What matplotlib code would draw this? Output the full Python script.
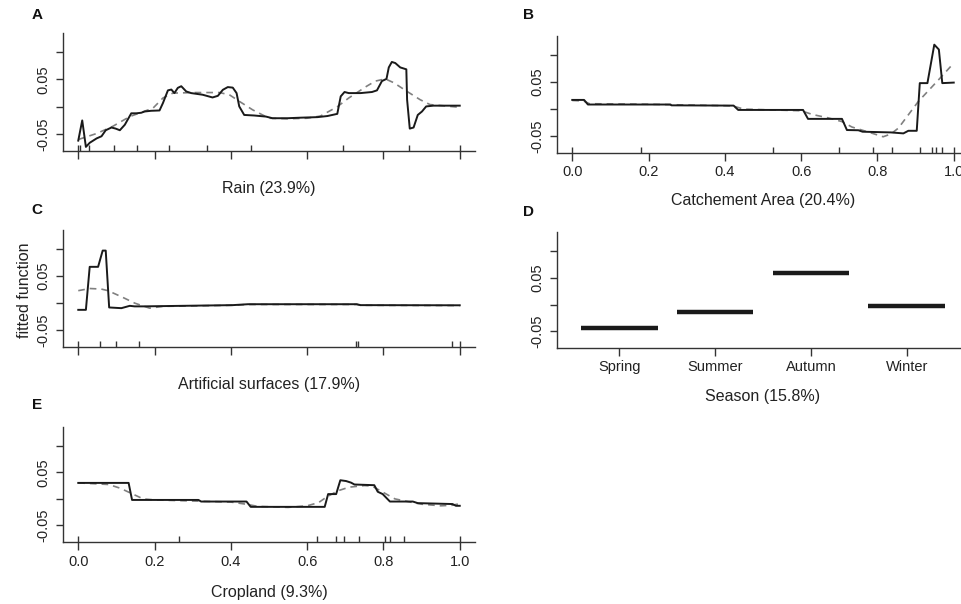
import matplotlib
matplotlib.use("Agg")
import matplotlib.pyplot as plt

plt.rcParams['font.family'] = ['Liberation Sans', 'DejaVu Sans']

# ---------------- data ----------------
rain_x = [0, 0.0104, 0.020, 0.030, 0.048, 0.061, 0.072, 0.087, 0.098, 0.109, 0.122, 0.139, 0.152, 0.165,
          0.174, 0.191, 0.213, 0.222, 0.235, 0.244, 0.252, 0.261, 0.270, 0.283, 0.296, 0.326, 0.352, 0.366,
          0.379, 0.392, 0.405, 0.415, 0.422, 0.435, 0.461, 0.492, 0.509, 0.548, 0.583, 0.627, 0.653, 0.679,
          0.688, 0.698, 0.709, 0.740, 0.770, 0.783, 0.796, 0.808, 0.814, 0.822, 0.831, 0.844, 0.860, 0.862,
          0.869, 0.879, 0.890, 0.901, 0.912, 0.931, 1.0]
rain_fit = [-0.062, -0.025, -0.0735, -0.066, -0.058, -0.054, -0.043, -0.038, -0.040, -0.043, -0.033, -0.012,
            -0.012, -0.011, -0.0087, -0.0074, -0.0068, 0.0068, 0.030, 0.0315, 0.025, 0.0346, 0.0376, 0.028,
            0.025, 0.022, 0.017, 0.020, 0.031, 0.036, 0.035, 0.025, 0.0006, -0.015, -0.016, -0.018, -0.021,
            -0.021, -0.020, -0.019, -0.017, -0.013, 0.019, 0.027, 0.025, 0.025, 0.027, 0.030, 0.047, 0.051,
            0.072, 0.082, 0.080, 0.072, 0.0685, 0.013, -0.040, -0.038, -0.015, -0.0087, 0.0006, 0.002, 0.002]
rain_sm_x = [0, 0.048, 0.09, 0.135, 0.196, 0.222, 0.248, 0.309, 0.37, 0.396, 0.422, 0.457, 0.5, 0.55, 0.6,
             0.635, 0.679, 0.709, 0.757, 0.779, 0.805, 0.827, 0.862, 0.896, 0.922, 1.0]
rain_sm = [-0.060, -0.049, -0.036, -0.018, -0.0025, 0.016, 0.025, 0.026, 0.026, 0.022, 0.010, -0.0056,
           -0.021, -0.022, -0.021, -0.017, 0.0, 0.016, 0.038, 0.047, 0.051, 0.044, 0.028, 0.013, 0.004, -0.001]
rain_rug = [0.0, 0.004, 0.029, 0.093, 0.154, 0.239, 0.337, 0.452, 0.695, 0.866, 1.0]

catch_x = [0, 0.031, 0.041, 0.257, 0.26, 0.423, 0.435, 0.605, 0.618, 0.707, 0.72, 0.75, 0.761, 0.835,
           0.868, 0.881, 0.903, 0.911, 0.931, 0.949, 0.961, 0.97, 1.0]
catch_fit = [0.017, 0.017, 0.0085, 0.0085, 0.0070, 0.0065, -0.0015, -0.0015, -0.018, -0.018, -0.0386,
             -0.039, -0.0417, -0.043, -0.0448, -0.040, -0.040, 0.048, 0.048, 0.119, 0.110, 0.048, 0.049]
catch_sm_x = [0, 0.03, 0.045, 0.2, 0.42, 0.45, 0.6, 0.63, 0.67, 0.707, 0.733, 0.77, 0.815, 0.835, 0.855,
              0.907, 0.96, 1.0]
catch_sm = [0.016, 0.015, 0.010, 0.009, 0.006, 0.0, -0.003, -0.010, -0.016, -0.023, -0.033, -0.041, -0.051,
            -0.046, -0.035, 0.014, 0.054, 0.085]
catch_rug = [0.0, 0.18, 0.527, 0.70, 0.788, 0.838, 0.911, 0.942, 0.953, 0.97, 1.0]

art_x = [0, 0.020, 0.030, 0.052, 0.064, 0.072, 0.081, 0.113, 0.135, 0.148, 0.17, 0.405, 0.445, 0.73, 0.74, 1.0]
art_fit = [-0.0124, -0.0124, 0.067, 0.067, 0.097, 0.097, -0.008, -0.0093, -0.005, -0.006, -0.006, -0.0037,
           -0.002, -0.002, -0.0037, -0.004]
art_sm_x = [0, 0.03, 0.06, 0.078, 0.117, 0.148, 0.187, 0.222, 0.405, 0.445, 0.73, 0.74, 1.0]
art_sm = [0.023, 0.027, 0.026, 0.023, 0.0105, 0.0, -0.0093, -0.006, -0.004, -0.0025, -0.0025, -0.004, -0.0045]
art_rug = [0.0, 0.057, 0.10, 0.158, 0.728, 0.734, 0.979, 1.0]

seasons = ["Spring", "Summer", "Autumn", "Winter"]
season_fit = [-0.043, -0.014, 0.059, -0.002]

crop_x = [0, 0.132, 0.141, 0.315, 0.322, 0.441, 0.452, 0.646, 0.655, 0.676, 0.687, 0.702, 0.715, 0.724,
          0.776, 0.785, 0.798, 0.817, 0.877, 0.89, 0.981, 0.99, 1.0]
crop_fit = [0.030, 0.030, -0.002, -0.002, -0.005, -0.005, -0.015, -0.015, 0.009, 0.009, 0.035, 0.0335,
            0.0305, 0.027, 0.0257, 0.0134, 0.009, -0.005, -0.005, -0.008, -0.0097, -0.013, -0.013]
crop_sm_x = [0, 0.08, 0.11, 0.14, 0.17, 0.2, 0.4, 0.44, 0.47, 0.55, 0.6, 0.63, 0.65, 0.68, 0.71, 0.75, 0.77,
             0.8, 0.83, 0.87, 0.9, 0.95, 0.98, 1.0]
crop_sm = [0.030, 0.027, 0.020, 0.010, 0.0, -0.002, -0.006, -0.010, -0.014, -0.016, -0.013, -0.007, 0.003,
           0.015, 0.022, 0.025, 0.024, 0.012, 0.0, -0.006, -0.010, -0.013, -0.012, -0.009]
crop_rug = [0.0, 0.265, 0.627, 0.675, 0.697, 0.736, 0.804, 0.817, 0.854, 1.0]

y_tick_vals = [-0.05, 0.0, 0.05, 0.10]
y_tick_labels = ["-0.05", "", "0.05", ""]
x_tick_vals = [0.0, 0.2, 0.4, 0.6, 0.8, 1.0]
x_tick_labels = ["0.0", "0.2", "0.4", "0.6", "0.8", "1.0"]
x_blank_labels = ["", "", "", "", "", ""]

# ---------------- layout ----------------
W, H = 962, 604
fig = plt.figure(figsize=(W / 100, H / 100), dpi=100)

def px_axes(left, top, right, bottom):
    return fig.add_axes([left / W, 1 - bottom / H, (right - left) / W, (bottom - top) / H])

INK = "#1a1a1a"
GREY = "#808080"
SPINE = "#333333"

def style(ax, letter_xy, letter, xlabel, label_off, xlabels, rug, xlim=(-0.04, 1.04)):
    ax.set_xlim(*xlim)
    ax.set_ylim(-0.081, 0.135)
    for s in ("top", "right"):
        ax.spines[s].set_visible(False)
    for s in ("left", "bottom"):
        ax.spines[s].set_color(SPINE)
        ax.spines[s].set_linewidth(1.0)
    ax.set_yticks(y_tick_vals)
    ax.set_yticklabels(y_tick_labels, rotation=90, va="center", ha="right")
    ax.tick_params(axis="y", length=5, width=1.0, color=SPINE, pad=4, labelsize=10.5, labelcolor="#222222")
    ax.tick_params(axis="x", which="major", length=6, width=1.0, color=SPINE, pad=3,
                   labelsize=10.5, labelcolor="#222222")
    if rug is not None:
        ax.xaxis.remove_overlapping_locs = False
        ax.set_xticks(x_tick_vals)
        ax.set_xticklabels(xlabels)
        ax.set_xticks(rug, minor=True)
        ax.tick_params(axis="x", which="minor", direction="in", length=4, width=1.0, color=SPINE)
    ax.set_xlabel(xlabel, fontsize=11.5, color="#222222")
    ax.xaxis.label.set_va("center")
    h_px = ax.get_position().height * H
    ax.xaxis.set_label_coords(0.5, -label_off / h_px)
    fig.text(letter_xy[0] / W, 1 - letter_xy[1] / H, letter, fontsize=11, fontweight="bold",
             ha="center", va="center", color="#111111")

# A: Rain
axA = px_axes(63, 33, 475, 151)
axA.plot(rain_sm_x, rain_sm, color=GREY, lw=1.2, ls=(0, (4, 3)))
axA.plot(rain_x, rain_fit, color=INK, lw=1.4)
style(axA, (37, 15), "A", "Rain (23.9%)", 37, x_blank_labels, rain_rug)

# B: Catchement Area
axB = px_axes(557, 36, 969, 153)
axB.plot(catch_sm_x, catch_sm, color=GREY, lw=1.2, ls=(0, (4, 3)))
axB.plot(catch_x, catch_fit, color=INK, lw=1.4)
style(axB, (528, 15), "B", "Catchement Area (20.4%)", 47, x_tick_labels, catch_rug)

# C: Artificial surfaces
axC = px_axes(63, 230, 475, 347)
axC.plot(art_sm_x, art_sm, color=GREY, lw=1.2, ls=(0, (4, 3)))
axC.plot(art_x, art_fit, color=INK, lw=1.4)
style(axC, (37, 210), "C", "Artificial surfaces (17.9%)", 38, x_blank_labels, art_rug)

# D: Season
axD = px_axes(557, 232, 969, 348)
pos = list(range(1, len(seasons) + 1))
axD.hlines(season_fit, [p - 0.4 for p in pos], [p + 0.4 for p in pos], colors=INK, lw=3.2)
style(axD, (528, 212), "D", "Season (15.8%)", 49, None, None, xlim=(0.35, 4.65))
axD.set_xticks(pos)
axD.set_xticklabels(seasons)

# E: Cropland
axE = px_axes(63, 427, 475, 542)
axE.plot(crop_sm_x, crop_sm, color=GREY, lw=1.2, ls=(0, (4, 3)))
axE.plot(crop_x, crop_fit, color=INK, lw=1.4)
style(axE, (37, 405), "E", "Cropland (9.3%)", 50, x_tick_labels, crop_rug)

fig.text(25 / W, 1 - 290 / H, "fitted function", rotation=90, fontsize=11.5, ha="center", va="center",
         color="#222222")

fig.savefig("out.png", dpi=100)
